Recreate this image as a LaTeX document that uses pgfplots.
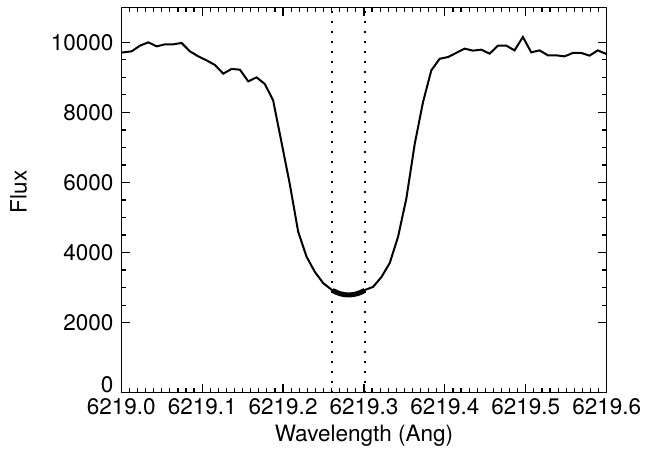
\documentclass[border=0pt]{standalone}
\usepackage{pgfplots}
\pgfplotsset{compat=1.18}
\usepackage{fontspec}
\setmainfont{TeX Gyre Heros}
\begin{document}
\fontsize{11.3}{13.5}\selectfont
\begin{tikzpicture}
\begin{axis}[
  scale only axis,
  width=242.7bp, height=192.7bp,
  xmin=6219.0, xmax=6219.6, ymin=0, ymax=11000,
  xtick={6219.0,6219.1,6219.2,6219.3,6219.4,6219.5,6219.6},
  ytick={2000,4000,6000,8000,10000},
  extra y ticks={0},
  extra y tick style={yticklabel style={yshift=4bp}},
  minor x tick num=9, minor y tick num=3,
  major tick length=4.5bp, minor tick length=2.2bp,
  tick align=inside,
  axis line style={line width=0.75bp},
  every tick/.style={black, line width=0.6bp},
  /pgf/number format/assume math mode=true,
  scaled x ticks=false, scaled y ticks=false,
  xticklabel style={yshift=1.0bp, /pgf/number format/fixed, /pgf/number format/fixed zerofill, /pgf/number format/precision=1, /pgf/number format/1000 sep={}},
  yticklabel style={/pgf/number format/fixed, /pgf/number format/1000 sep={}},
  xlabel={Wavelength (Ang)},
  ylabel={Flux},
  xlabel style={at={(axis description cs:0.5,-0.1271)}, anchor=base},
  ylabel style={at={(axis description cs:-0.1949,0.521)}, anchor=base},
  clip=true,
]
\addplot[black, line width=1bp] coordinates {
(6218.9922,9700)
(6219.0025,9714)
(6219.0128,9743)
(6219.0231,9906)
(6219.0334,10000)
(6219.0437,9886)
(6219.0540,9943)
(6219.0643,9943)
(6219.0745,9983)
(6219.0848,9743)
(6219.0951,9600)
(6219.1054,9486)
(6219.1157,9354)
(6219.1260,9106)
(6219.1363,9240)
(6219.1466,9220)
(6219.1569,8886)
(6219.1672,9000)
(6219.1774,8811)
(6219.1877,8343)
(6219.1980,7150)
(6219.2083,5950)
(6219.2186,4600)
(6219.2289,3886)
(6219.2392,3450)
(6219.2495,3130)
(6219.2598,2940)
(6219.2701,2850)
(6219.2803,2800)
(6219.2906,2850)
(6219.3009,2930)
(6219.3112,3020)
(6219.3215,3300)
(6219.3318,3700)
(6219.3421,4450)
(6219.3524,5550)
(6219.3627,7100)
(6219.3730,8300)
(6219.3832,9200)
(6219.3935,9530)
(6219.4038,9580)
(6219.4141,9700)
(6219.4244,9820)
(6219.4347,9763)
(6219.4450,9791)
(6219.4553,9677)
(6219.4656,9906)
(6219.4759,9906)
(6219.4861,9771)
(6219.4964,10154)
(6219.5067,9714)
(6219.5170,9771)
(6219.5273,9629)
(6219.5376,9629)
(6219.5479,9600)
(6219.5582,9697)
(6219.5685,9697)
(6219.5788,9620)
(6219.5890,9771)
(6219.5993,9669)
(6219.6096,9650)
};
\addplot[black, line width=2.5bp] coordinates {
(6219.261,2920) (6219.266,2863) (6219.271,2822) (6219.276,2798) (6219.281,2790)
(6219.286,2798) (6219.291,2822) (6219.296,2863) (6219.301,2920)
};
\addplot[black, line width=1bp, dash pattern=on 1bp off 4bp] coordinates {(6219.261,0) (6219.261,11000)};
\addplot[black, line width=1bp, dash pattern=on 1bp off 4bp] coordinates {(6219.301,0) (6219.301,11000)};
\end{axis}
\pgfresetboundingbox
\path ([shift={(-60.65bp,-33.15bp)}]current axis.south west) rectangle ([shift={(19.65bp,3.65bp)}]current axis.north east);
\end{tikzpicture}
\end{document}
